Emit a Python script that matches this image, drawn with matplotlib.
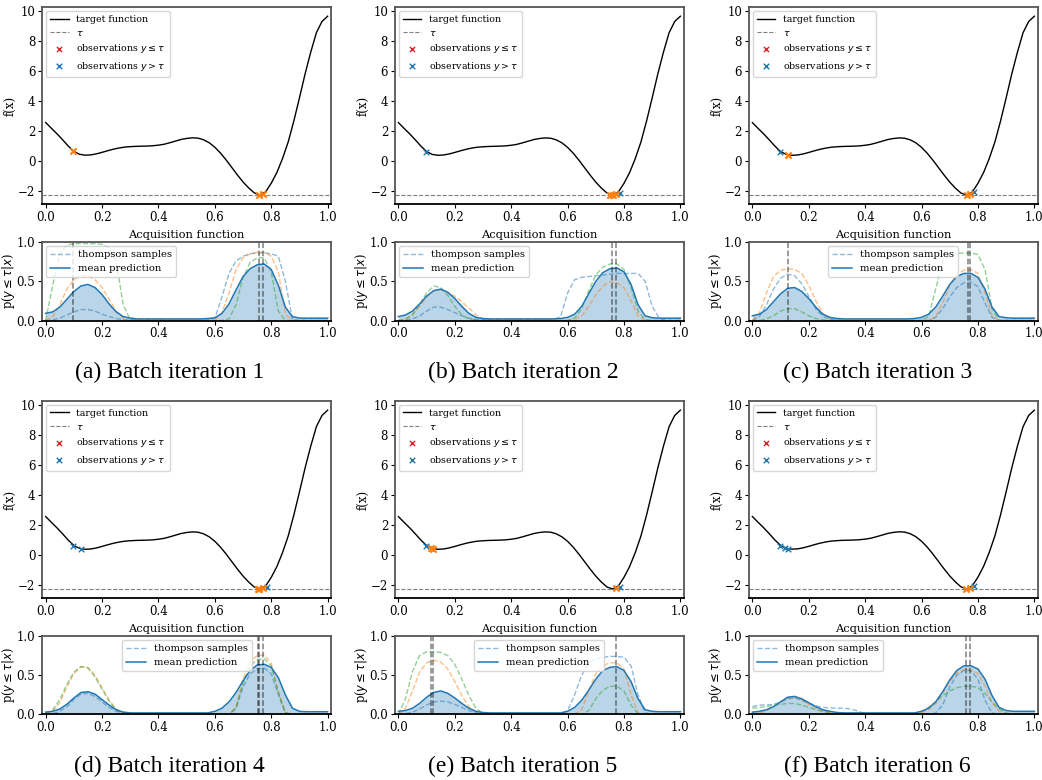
import numpy as np
import matplotlib
matplotlib.use("Agg")
from matplotlib import pyplot as plt

plt.rcParams['font.family'] = ['DejaVu Serif']

## Data ##
# target function, sampled every 0.02
f_x = np.linspace(0.0, 1.0, 51)
f_vals = [2.55, 2.17, 1.80, 1.40, 0.98, 0.62, 0.43, 0.37, 0.39, 0.46,
          0.56, 0.67, 0.77, 0.85, 0.91, 0.94, 0.96, 0.97, 0.98, 1.00,
          1.04, 1.10, 1.20, 1.31, 1.42, 1.49, 1.53, 1.51, 1.40, 1.20,
          0.90, 0.51, 0.05, -0.45, -0.95, -1.42, -1.82, -2.15, -2.28, -2.08,
          -1.50, -0.78, 0.15, 1.25, 2.65, 4.20, 5.80, 7.25, 8.55, 9.30,
          9.65]
tau = -2.27

# acquisition: mean prediction and three thompson samples, sampled every 0.025
x_grid = np.linspace(0.0, 1.0, 41)

mean_a = ([0.09, 0.11, 0.17, 0.27, 0.37, 0.44, 0.46, 0.42, 0.33, 0.21, 0.11, 0.05, 0.03]
          + [0.02] * 10
          + [0.025, 0.035, 0.09, 0.21, 0.39, 0.56, 0.66, 0.71, 0.72, 0.65, 0.45, 0.17, 0.05,
             0.03, 0.03, 0.03, 0.03, 0.03])
ts1_a = ([0.0, 0.01, 0.03, 0.07, 0.11, 0.14, 0.14, 0.12, 0.08, 0.05, 0.025, 0.01, 0.005]
         + [0.005] * 10
         + [0.005, 0.03, 0.30, 0.60, 0.76, 0.82, 0.85, 0.86, 0.86, 0.85, 0.82, 0.50, 0.01,
            0.0, 0.0, 0.0, 0.0, 0.0])
ts2_a = ([0.0, 0.05, 0.20, 0.40, 0.52, 0.57, 0.57, 0.52, 0.42, 0.27, 0.12, 0.03, 0.005]
         + [0.0] * 10
         + [0.0, 0.0, 0.10, 0.35, 0.65, 0.80, 0.85, 0.87, 0.87, 0.82, 0.62, 0.08, 0.0,
            0.0, 0.0, 0.0, 0.0, 0.0])
ts3_a = ([0.0, 0.45, 0.85, 0.96, 0.98, 0.98, 0.98, 0.98, 0.97, 0.93, 0.75, 0.20, 0.01]
         + [0.0] * 10
         + [0.0, 0.0, 0.0, 0.02, 0.20, 0.55, 0.74, 0.80, 0.80, 0.62, 0.12, 0.0, 0.0,
            0.0, 0.0, 0.0, 0.0, 0.0])

mean_b = ([0.05, 0.07, 0.12, 0.21, 0.31, 0.38, 0.40, 0.36, 0.28, 0.18, 0.09, 0.04, 0.025]
          + [0.02] * 10
          + [0.025, 0.04, 0.08, 0.18, 0.34, 0.50, 0.61, 0.66, 0.67, 0.62, 0.46, 0.20, 0.06,
             0.035, 0.03, 0.03, 0.03, 0.03])
ts1_b = ([0.0, 0.0, 0.02, 0.06, 0.12, 0.17, 0.17, 0.14, 0.10, 0.06, 0.03, 0.015, 0.01]
         + [0.01] * 10
         + [0.05, 0.35, 0.52, 0.55, 0.56, 0.57, 0.58, 0.59, 0.60, 0.60, 0.60, 0.60, 0.50,
            0.18, 0.03, 0.0, 0.0, 0.0])
ts2_b = ([0.0, 0.02, 0.08, 0.18, 0.30, 0.38, 0.39, 0.36, 0.31, 0.24, 0.16, 0.07, 0.015]
         + [0.0] * 10
         + [0.0, 0.0, 0.01, 0.06, 0.18, 0.33, 0.44, 0.49, 0.48, 0.42, 0.25, 0.06, 0.0,
            0.0, 0.0, 0.0, 0.0, 0.0])
ts3_b = ([0.0, 0.01, 0.07, 0.20, 0.35, 0.44, 0.42, 0.32, 0.18, 0.07, 0.02, 0.005, 0.0]
         + [0.0] * 10
         + [0.0, 0.0, 0.03, 0.15, 0.38, 0.58, 0.68, 0.72, 0.72, 0.65, 0.42, 0.12, 0.01,
            0.0, 0.0, 0.0, 0.0, 0.0])

mean_c = ([0.06, 0.08, 0.14, 0.24, 0.34, 0.41, 0.42, 0.37, 0.28, 0.17, 0.08, 0.04, 0.025]
          + [0.02] * 10
          + [0.025, 0.04, 0.08, 0.17, 0.31, 0.46, 0.56, 0.60, 0.60, 0.55, 0.40, 0.17, 0.05,
             0.035, 0.03, 0.03, 0.03, 0.03])
ts1_c = ([0.0, 0.05, 0.20, 0.40, 0.54, 0.59, 0.57, 0.47, 0.31, 0.15, 0.05, 0.015, 0.005]
         + [0.0] * 10
         + [0.0, 0.0, 0.0, 0.04, 0.15, 0.30, 0.42, 0.48, 0.49, 0.43, 0.22, 0.04, 0.0,
            0.0, 0.0, 0.0, 0.0, 0.0])
ts2_c = ([0.0, 0.10, 0.35, 0.56, 0.64, 0.66, 0.65, 0.60, 0.45, 0.25, 0.09, 0.02, 0.0]
         + [0.0] * 10
         + [0.0, 0.0, 0.0, 0.05, 0.22, 0.45, 0.59, 0.64, 0.65, 0.60, 0.35, 0.06, 0.0,
            0.0, 0.0, 0.0, 0.0, 0.0])
ts3_c = ([0.0, 0.0, 0.02, 0.06, 0.12, 0.15, 0.15, 0.11, 0.06, 0.025, 0.01, 0.0, 0.0]
         + [0.0] * 10
         + [0.0, 0.0, 0.05, 0.40, 0.75, 0.84, 0.86, 0.86, 0.86, 0.84, 0.65, 0.15, 0.0,
            0.0, 0.0, 0.0, 0.0, 0.0])

mean_d = ([0.03, 0.04, 0.07, 0.13, 0.21, 0.28, 0.29, 0.26, 0.19, 0.12, 0.06, 0.03, 0.02]
          + [0.02] * 10
          + [0.02, 0.04, 0.08, 0.16, 0.28, 0.43, 0.56, 0.63, 0.64, 0.60, 0.47, 0.25, 0.08,
             0.04, 0.035, 0.035, 0.035, 0.035])
ts1_d = ([0.0, 0.01, 0.04, 0.10, 0.19, 0.26, 0.27, 0.23, 0.16, 0.09, 0.04, 0.015, 0.005]
         + [0.0] * 10
         + [0.0, 0.0, 0.0, 0.0, 0.08, 0.35, 0.52, 0.58, 0.59, 0.52, 0.25, 0.02, 0.0,
            0.0, 0.0, 0.0, 0.0, 0.0])
ts2_d = ([0.0, 0.04, 0.15, 0.35, 0.52, 0.61, 0.60, 0.50, 0.34, 0.18, 0.07, 0.02, 0.0]
         + [0.0] * 10
         + [0.0, 0.0, 0.0, 0.0, 0.10, 0.45, 0.67, 0.75, 0.76, 0.65, 0.30, 0.03, 0.0,
            0.0, 0.0, 0.0, 0.0, 0.0])
ts3_d = ([0.01, 0.06, 0.19, 0.38, 0.54, 0.61, 0.59, 0.48, 0.32, 0.17, 0.06, 0.02, 0.0]
         + [0.0] * 10
         + [0.0, 0.0, 0.0, 0.0, 0.08, 0.40, 0.62, 0.70, 0.71, 0.62, 0.28, 0.02, 0.0,
            0.0, 0.0, 0.0, 0.0, 0.0])

mean_e = ([0.04, 0.05, 0.08, 0.14, 0.22, 0.28, 0.30, 0.27, 0.21, 0.14, 0.08, 0.04, 0.025]
          + [0.02] * 10
          + [0.02, 0.04, 0.09, 0.18, 0.31, 0.45, 0.56, 0.60, 0.61, 0.56, 0.42, 0.20, 0.06,
             0.04, 0.035, 0.035, 0.035, 0.035])
ts1_e = ([0.0, 0.01, 0.03, 0.07, 0.12, 0.16, 0.17, 0.16, 0.13, 0.09, 0.05, 0.02, 0.005]
         + [0.0] * 10
         + [0.0, 0.05, 0.25, 0.50, 0.65, 0.71, 0.73, 0.74, 0.74, 0.73, 0.62, 0.25, 0.02,
            0.0, 0.0, 0.0, 0.0, 0.0])
ts2_e = ([0.0, 0.08, 0.30, 0.54, 0.66, 0.69, 0.67, 0.58, 0.42, 0.24, 0.10, 0.03, 0.0]
         + [0.0] * 10
         + [0.0, 0.0, 0.0, 0.06, 0.30, 0.52, 0.62, 0.66, 0.66, 0.58, 0.25, 0.02, 0.0,
            0.0, 0.0, 0.0, 0.0, 0.0])
ts3_e = ([0.0, 0.20, 0.55, 0.75, 0.80, 0.80, 0.79, 0.75, 0.64, 0.45, 0.24, 0.08, 0.01]
         + [0.0] * 10
         + [0.0, 0.0, 0.0, 0.0, 0.05, 0.20, 0.31, 0.36, 0.36, 0.30, 0.12, 0.01, 0.0,
            0.0, 0.0, 0.0, 0.0, 0.0])

mean_f = ([0.03, 0.04, 0.06, 0.10, 0.16, 0.22, 0.23, 0.20, 0.15, 0.10, 0.06, 0.04, 0.025]
          + [0.02] * 10
          + [0.02, 0.04, 0.08, 0.16, 0.29, 0.44, 0.56, 0.62, 0.62, 0.58, 0.45, 0.24, 0.09,
             0.05, 0.04, 0.04, 0.04, 0.04])
ts1_f = ([0.10, 0.12, 0.12, 0.13, 0.16, 0.20, 0.21, 0.18, 0.14, 0.11, 0.09, 0.085, 0.08]
         + [0.08, 0.07, 0.04, 0.01, 0.0, 0.0, 0.0, 0.0, 0.0, 0.0]
         + [0.0, 0.0, 0.0, 0.02, 0.12, 0.35, 0.50, 0.56, 0.56, 0.45, 0.18, 0.02, 0.0,
            0.0, 0.0, 0.0, 0.0, 0.0])
ts2_f = ([0.01, 0.02, 0.05, 0.10, 0.16, 0.21, 0.22, 0.19, 0.13, 0.08, 0.04, 0.02, 0.01]
         + [0.005] * 10
         + [0.005, 0.02, 0.06, 0.14, 0.27, 0.42, 0.53, 0.57, 0.57, 0.52, 0.36, 0.15, 0.04,
            0.01, 0.0, 0.0, 0.0, 0.0])
ts3_f = ([0.08, 0.09, 0.10, 0.12, 0.13, 0.14, 0.14, 0.12, 0.09, 0.06, 0.04, 0.02, 0.01]
         + [0.005] * 10
         + [0.01, 0.04, 0.09, 0.16, 0.24, 0.30, 0.34, 0.36, 0.36, 0.34, 0.27, 0.16, 0.07,
            0.02, 0.0, 0.0, 0.0, 0.0])

# selected batch points (vertical lines in acquisition plot)
batch_a = [0.097, 0.757, 0.771]
batch_b = [0.757, 0.771]
batch_c = [0.125, 0.763, 0.771]
batch_d = [0.754, 0.756, 0.771]
batch_e = [0.115, 0.123, 0.771]
batch_f = [0.758, 0.771]

# observations on the target plot
new_x_a, new_y_a = [0.097, 0.757, 0.771], [0.62, -2.29, -2.22]
old_x_a, old_y_a = [], []
new_x_b, new_y_b = [0.752, 0.762, 0.770], [-2.28, -2.28, -2.23]
old_x_b, old_y_b = [0.097, 0.785], [0.60, -2.12]
new_x_c, new_y_c = [0.127, 0.760, 0.772], [0.37, -2.28, -2.22]
old_x_c, old_y_c = [0.097, 0.787], [0.57, -2.08]
new_x_d, new_y_d = [0.754, 0.757, 0.771], [-2.28, -2.28, -2.22]
old_x_d, old_y_d = [0.097, 0.127, 0.785], [0.57, 0.37, -2.12]
new_x_e, new_y_e = [0.115, 0.123, 0.771], [0.44, 0.39, -2.22]
old_x_e, old_y_e = [0.097, 0.785], [0.57, -2.12]
new_x_f, new_y_f = [0.758, 0.771], [-2.29, -2.22]
old_x_f, old_y_f = [0.097, 0.115, 0.127, 0.785], [0.57, 0.44, 0.37, -2.12]

captions = ["(a) Batch iteration 1", "(b) Batch iteration 2", "(c) Batch iteration 3",
            "(d) Batch iteration 4", "(e) Batch iteration 5", "(f) Batch iteration 6"]
acq_legend_loc = ["upper left", "upper left", "upper center",
                  "upper center", "upper center", "upper left"]

panels = [
    (mean_a, [ts1_a, ts2_a, ts3_a], batch_a, new_x_a, new_y_a, old_x_a, old_y_a),
    (mean_b, [ts1_b, ts2_b, ts3_b], batch_b, new_x_b, new_y_b, old_x_b, old_y_b),
    (mean_c, [ts1_c, ts2_c, ts3_c], batch_c, new_x_c, new_y_c, old_x_c, old_y_c),
    (mean_d, [ts1_d, ts2_d, ts3_d], batch_d, new_x_d, new_y_d, old_x_d, old_y_d),
    (mean_e, [ts1_e, ts2_e, ts3_e], batch_e, new_x_e, new_y_e, old_x_e, old_y_e),
    (mean_f, [ts1_f, ts2_f, ts3_f], batch_f, new_x_f, new_y_f, old_x_f, old_y_f),
]

## Plotting ##
fig = plt.figure(figsize=(10.42, 7.8), dpi=100)

col_left = [0.0406, 0.3791, 0.7188]
ax_w = 0.2771
main_bottom, main_h = [0.7385, 0.2334], 0.2522
acq_bottom, acq_h = [0.5891, 0.0840], 0.1006
cap_x = [0.163, 0.502, 0.842]
cap_y = [0.523, 0.018]


def style_axes(ax):
    for side in ['top', 'right', 'left']:
        ax.spines[side].set_color('#555555')
        ax.spines[side].set_linewidth(1.3)
    ax.spines['bottom'].set_color('black')
    ax.spines['bottom'].set_linewidth(1.3)
    ax.tick_params(labelsize=8.5, length=3, width=0.8, pad=2)
    ax.set_xlim(-0.012, 1.012)
    ax.set_xticks([0.0, 0.2, 0.4, 0.6, 0.8, 1.0])


for i, (mean, samples, batch, nx, ny, ox, oy) in enumerate(panels):
    row, col = divmod(i, 3)

    # target function
    ax1 = fig.add_axes([col_left[col], main_bottom[row], ax_w, main_h])
    ax1.plot(f_x, f_vals, color='black', lw=1.0, label='target function')
    ax1.axhline(tau, color='gray', ls='--', lw=0.8, label=r'$\tau$')
    ax1.scatter([], [], marker='x', color='tab:red', s=14, linewidths=1.0,
                label=r'observations $y \leq \tau$')
    ax1.scatter(ox, oy, marker='x', color='tab:blue', s=16, linewidths=1.0,
                label=r'observations $y > \tau$', zorder=3)
    ax1.scatter(nx, ny, marker='x', color='tab:orange', s=20, linewidths=1.5, zorder=4)
    ax1.set_ylabel('f(x)', fontsize=8.5)
    ax1.yaxis.set_label_coords(-0.088, 0.5)
    ax1.set_yticks([-2, 0, 2, 4, 6, 8, 10])
    style_axes(ax1)
    ax1.legend(loc='upper left', fontsize=6.8, scatterpoints=1, borderaxespad=0.4)

    # acquisition function
    ax2 = fig.add_axes([col_left[col], acq_bottom[row], ax_w, acq_h])
    for k, ts in enumerate(samples):
        ax2.plot(x_grid, ts, ls='--', lw=1.0, color='C%d' % k, alpha=0.5,
                 label='thompson samples' if k == 0 else None)
    ax2.plot(x_grid, mean, color='tab:blue', lw=1.1, label='mean prediction')
    ax2.fill_between(x_grid, 0, mean, color='tab:blue', alpha=0.3, lw=0)
    for xb in batch:
        ax2.axvline(xb, color='black', ls='--', lw=1.1, alpha=0.5)
    ax2.set_ylim(0, 1.0)
    ax2.set_yticks([0.0, 0.5, 1.0])
    ax2.set_title('Acquisition function', fontsize=8.2, pad=3)
    ax2.set_ylabel(r'p($y \leq \tau|x$)', fontsize=8.3)
    ax2.yaxis.set_label_coords(-0.088, 0.5)
    style_axes(ax2)
    ax2.legend(loc=acq_legend_loc[i], fontsize=7.2, borderaxespad=0.4)

    fig.text(cap_x[col], cap_y[row], captions[i], ha='center', va='center',
             fontsize=17, family='Liberation Serif')

fig.savefig('out.png', dpi=100)
